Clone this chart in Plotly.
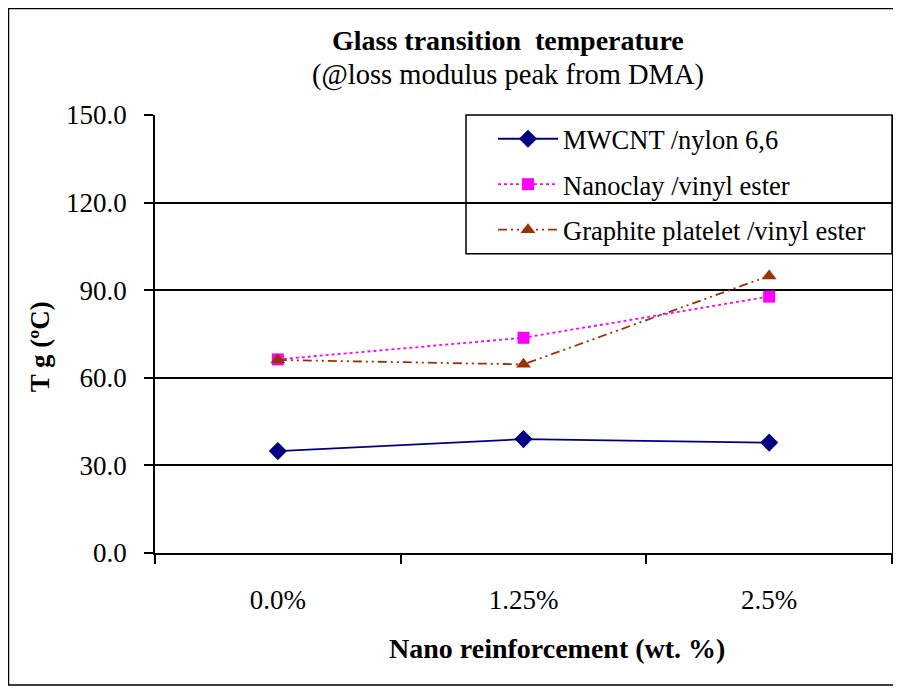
import plotly.graph_objects as go

categories = ["0.0%", "1.25%", "2.5%"]
mwcnt_nylon = [34.9, 39.0, 37.8]
nanoclay_ve = [66.3, 73.7, 87.8]
graphite_ve = [66.1, 64.6, 94.9]
series_names = ["MWCNT /nylon 6,6", "Nanoclay /vinyl ester", "Graphite platelet /vinyl ester"]
y_ticks = [0, 30, 60, 90, 120, 150]

FONT = "Liberation Serif"
FS = 27

fig = go.Figure()
fig.add_trace(go.Scatter(
    x=categories, y=mwcnt_nylon, name=series_names[0], mode="lines+markers", legendgroup="a",
    line=dict(color="#000080", width=1.8),
    marker=dict(symbol="diamond", size=14, color="#000080")))
fig.add_trace(go.Scatter(
    x=categories, y=nanoclay_ve, name=series_names[1], mode="lines+markers", legendgroup="b",
    line=dict(color="#FF00FF", width=1.8, dash="dot"),
    marker=dict(symbol="square", size=12, color="#FF00FF")))
fig.add_trace(go.Scatter(
    x=categories, y=graphite_ve, name=series_names[2], mode="lines+markers", legendgroup="c",
    line=dict(color="#993300", width=1.8, dash="9px,4px,2px,4px,2px,4px"),
    marker=dict(symbol="triangle-up", size=13, color="#993300")))

fig.update_layout(
    width=901, height=689,
    paper_bgcolor="white", plot_bgcolor="white",
    margin=dict(l=147, r=17, t=107, b=144),
    font=dict(family=FONT, size=FS, color="black"),
    showlegend=True,
    legend=dict(
        x=0.4586, y=1, xanchor="left", yanchor="top",
        bgcolor="rgba(0,0,0,0)", borderwidth=0,
        font=dict(family=FONT, size=26.5, color="black"),
        tracegroupgap=8, itemwidth=60,
    ),
    xaxis=dict(
        type="category", range=[-0.5, 2.5],
        showline=True, linecolor="black", linewidth=1.5,
        ticks="outside", tickson="boundaries", ticklen=9, tickcolor="black", tickwidth=1.5,
        showgrid=False, zeroline=False, ticklabelstandoff=22,
        tickfont=dict(family=FONT, size=FS),
    ),
    yaxis=dict(
        range=[0, 150], tickvals=y_ticks, ticktext=[f"{v:.1f}" for v in y_ticks],
        showline=True, linecolor="black", linewidth=1.5, mirror=True,
        ticks="outside", ticklen=9, tickcolor="black", tickwidth=1.5,
        showgrid=True, gridcolor="black", gridwidth=1.5, zeroline=False,
        ticklabelstandoff=12,
        tickfont=dict(family=FONT, size=FS),
    ),
    annotations=[
        dict(text="<b>Glass transition  temperature</b>", xref="paper", yref="paper",
             x=0.479, y=1, yshift=75, xanchor="center", yanchor="middle", showarrow=False,
             font=dict(family=FONT, size=28)),
        dict(text="(@loss modulus peak from DMA)", xref="paper", yref="paper",
             x=0.479, y=1, yshift=40, xanchor="center", yanchor="middle", showarrow=False,
             font=dict(family=FONT, size=28.5)),
        dict(text="<b>Nano reinforcement (wt. %)</b>", xref="paper", yref="paper",
             x=0.5455, y=0, yshift=-95, xanchor="center", yanchor="middle", showarrow=False,
             font=dict(family=FONT, size=28)),
        dict(text="<b>T g (ºC)</b>", xref="paper", yref="paper", textangle=-90,
             x=-0.156, y=0.47, xanchor="center", yanchor="middle", showarrow=False,
             font=dict(family=FONT, size=FS)),
    ],
    shapes=[
        dict(type="rect", xref="paper", yref="paper", layer="below",
             x0=-0.1988, x1=1.1, y0=-0.3014, y1=1.2432,
             line=dict(color="black", width=1.5)),
        dict(type="rect", xref="paper", yref="paper", layer="above",
             x0=0.422, x1=1, y0=0.683, y1=1,
             line=dict(color="black", width=1.5)),
    ],
)

fig.write_html("out.html")
